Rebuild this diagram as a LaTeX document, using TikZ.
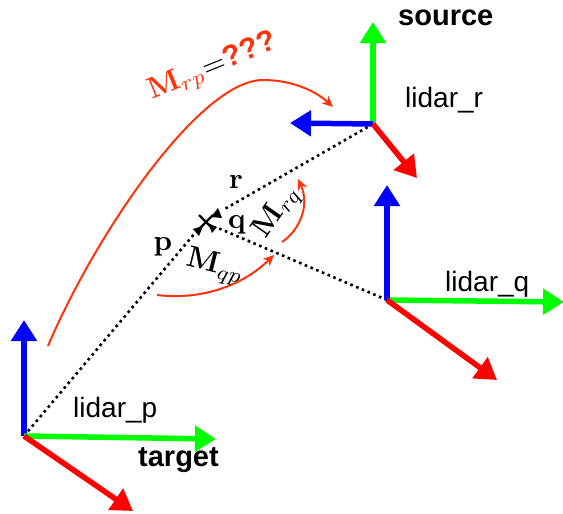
\documentclass[tikz,border=0pt]{standalone}
\usepackage[no-math]{fontspec}
\usepackage{amsmath}
\setmainfont{Liberation Sans}
\usetikzlibrary{arrows.meta}
\definecolor{axr}{RGB}{255,0,0}
\definecolor{axg}{RGB}{0,255,0}
\definecolor{axb}{RGB}{0,0,255}
\definecolor{curve}{RGB}{255,50,10}
\tikzset{
 x=1pt,y=-1pt,
 axis/.style={line width=5.5pt,-{Triangle[length=21pt,width=25pt]}},
 ray/.style={line width=2.6pt,dash pattern=on 2.6pt off 3.6pt,black},
 arc/.style={curve,line width=2pt,-{Stealth[length=11pt,width=10pt]}},
 lab/.style={font=\fontsize{28}{32}\selectfont,inner sep=0pt,anchor=base west},
 bold/.style={font=\fontsize{29}{32}\selectfont\bfseries,inner sep=0pt,anchor=base west},
 mth/.style={inner sep=0pt,scale=3},
 pqr/.style={inner sep=0pt,scale=2.9}
}
\begin{document}
\begin{tikzpicture}
\useasboundingbox (0,0) rectangle (563,514);
% frames
\coordinate (S) at (373,124); \coordinate (Sg) at (373,22); \coordinate (Sb) at (290,123); \coordinate (Sr) at (417,178);
\coordinate (Q) at (387,300); \coordinate (Qb) at (387,185); \coordinate (Qg) at (564,302); \coordinate (Qr) at (497,380);
\coordinate (P) at (24,436); \coordinate (Pb) at (24,320); \coordinate (Pg) at (216,439); \coordinate (Pr) at (133,511);
\coordinate (Xr) at (223,210); \coordinate (Xq) at (218,228); \coordinate (Xp) at (195,233);
% rays
\draw[ray] (S) -- (Xr);
\draw[ray] (Q) -- (Xq);
\draw[ray] (P) -- (Xp);
\fill (211,217) -- (222,218) -- (218,208) -- cycle;
\fill (208,223) -- (217,227) -- (212,233) -- cycle;
\fill (193,229) -- (203,226) -- (199,236) -- cycle;
\draw[line width=2.2pt] (199,215) -- (213,229) (199,229) -- (213,215);
% axes
\draw[axis,axg] (S) -- (Sg);
\draw[axis,axb] (S) -- (Sb);
\draw[axis,axr] (S) -- (Sr);
\draw[axis,axg] (Q) -- (Qg);
\draw[axis,axb] (Q) -- (Qb);
\draw[axis,axr] (Q) -- (Qr);
\draw[axis,axb] (P) -- (Pb);
\draw[axis,axg] (P) -- (Pg);
\draw[axis,axr] (P) -- (Pr);
% curves
\coordinate (a1) at (48,346); \coordinate (a2) at (333,107);
\draw[arc] (a1) .. controls (95,235) and (200,80) .. (263,80) .. controls (295,80) and (318,93) .. (a2);
\coordinate (b1) at (157,295); \coordinate (b2) at (274,255);
\draw[arc] (b1) .. controls (198,300) and (240,288) .. (b2);
\coordinate (c1) at (282,242); \coordinate (c2) at (298,179);
\draw[arc] (c1) .. controls (300,230) and (310,205) .. (c2);
% labels
\node[lab] (l1) at (405,107) {lidar\_r};
\node[lab] (l2) at (445,291) {lidar\_q};
\node[lab] (l3) at (73,417) {lidar\_p};
\node[bold] (s) at (398,25) {source};
\node[bold] (t) at (138,466) {target};
\node[pqr] (r) at (236,182) {$\mathbf{r}$};
\node[pqr] (q) at (237,225) {$\mathbf{q}$};
\node[pqr] (p) at (163,247) {$\mathbf{p}$};
\node[mth,rotate=-14] (mqp) at (215,267) {$\mathbf{M}_{qp}$};
\node[mth,rotate=55] (mrq) at (277,212) {$\mathbf{M}_{rq}$};
\node[inner sep=0pt,rotate=22,scale=3] (mrp) at (213,68) {$\color{curve}\mathbf{M}_{rp}\color{black}{=}\color{curve}\text{\bfseries ???}$};
\end{tikzpicture}
\end{document}
